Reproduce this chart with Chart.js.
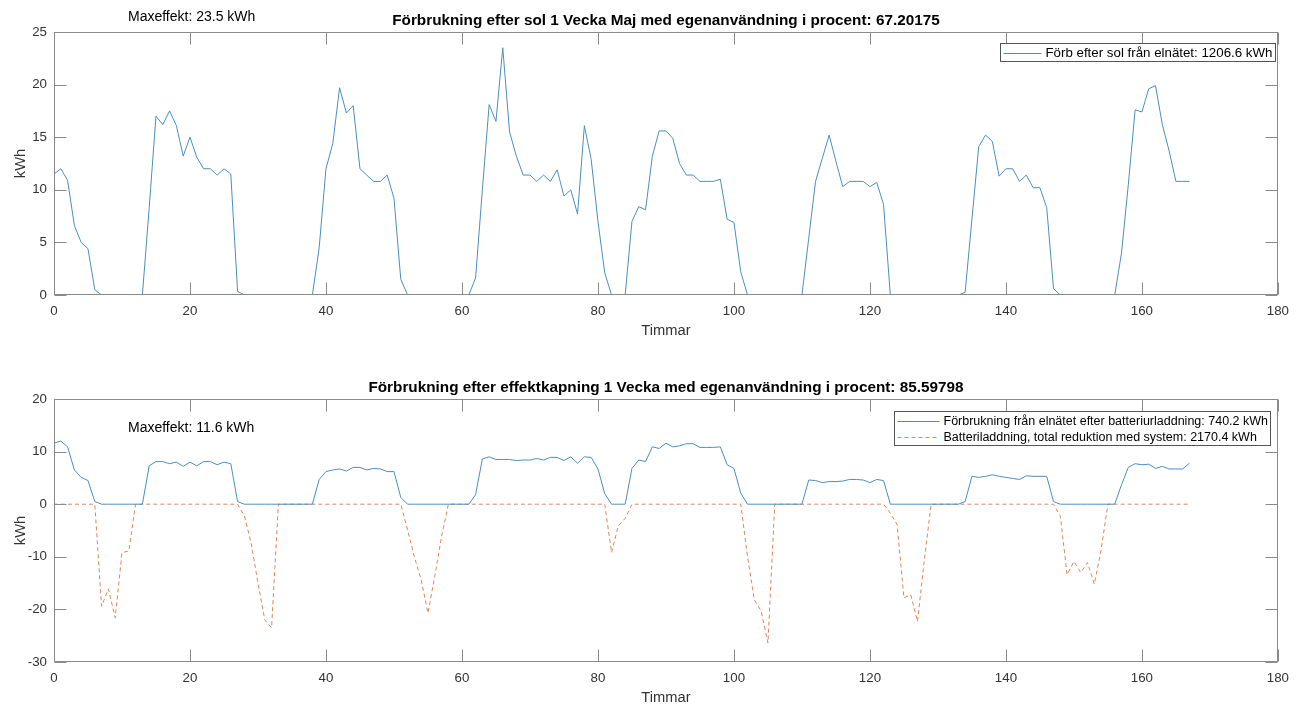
<!DOCTYPE html>
<html>
<head>
<meta charset="utf-8">
<title>Förbrukning 1 vecka</title>
<script src="https://cdn.jsdelivr.net/npm/chart.js@4.4.0/dist/chart.umd.min.js"></script>
<style>
  html, body { margin: 0; padding: 0; background: #fff; overflow: hidden; }
  .panel { position: absolute; left: 0; width: 1297px; height: 367px; }
</style>
</head>
<body>
<div class="panel" style="top:0"><canvas id="solChart" width="1297" height="367"></canvas></div>
<div class="panel" style="top:367px"><canvas id="kapChart" width="1297" height="367"></canvas></div>
<script>
// ===== DATA (one row per day, 24 h each) =====
const hours = Array.from({ length: 168 }, (_, h) => h);

// consumption from grid after solar (kWh)
const gridAfterSolar = [
  11.5, 12.0, 10.9, 6.6, 5.0, 4.4, 0.5, 0, 0, 0, 0, 0, 0, 0, 8.3, 17.0, 16.2, 17.5, 16.1, 13.2, 15.0, 13.1, 12.0, 12.0,
  11.4, 12.0, 11.5, 0.35, 0, 0, 0, 0, 0, 0, 0, 0, 0, 0, 0, 4.5, 12.0, 14.4, 19.7, 17.3, 18.0, 12.0, 11.4, 10.8,
  10.8, 11.4, 9.2, 1.5, 0, 0, 0, 0, 0, 0, 0, 0, 0, 0, 1.6, 10.0, 18.1, 16.5, 23.5, 15.5, 13.2, 11.4, 11.4, 10.8,
  11.4, 10.8, 11.9, 9.4, 10.0, 7.7, 16.1, 12.9, 7.0, 2.1, 0, 0, 0, 7.0, 8.4, 8.1, 13.2, 15.6, 15.6, 14.9, 12.5, 11.4, 11.4, 10.8,
  10.8, 10.8, 11.0, 7.2, 6.9, 2.2, 0, 0, 0, 0, 0, 0, 0, 0, 0, 5.4, 10.8, 13.0, 15.2, 12.7, 10.3, 10.8, 10.8, 10.8,
  10.3, 10.7, 8.6, 0, 0, 0, 0, 0, 0, 0, 0, 0, 0, 0, 0.25, 7.2, 14.1, 15.2, 14.6, 11.3, 12.0, 12.0, 10.8, 11.4,
  10.2, 10.2, 8.3, 0.6, 0, 0, 0, 0, 0, 0, 0, 0, 0, 4.0, 10.5, 17.6, 17.4, 19.6, 19.9, 16.2, 13.7, 10.8, 10.8, 10.8
];

// consumption from grid after battery discharge (kWh)
const gridAfterBattery = [
  11.6, 12.0, 10.9, 6.5, 5.1, 4.5, 0.5, 0, 0, 0, 0, 0, 0, 0, 7.3, 8.1, 8.1, 7.7, 8.0, 7.2, 8.0, 7.3, 8.1, 8.1,
  7.5, 8.0, 7.7, 0.5, 0, 0, 0, 0, 0, 0, 0, 0, 0, 0, 0, 4.7, 6.2, 6.5, 6.7, 6.3, 7.0, 7.0, 6.5, 6.8,
  6.7, 6.2, 6.2, 1.3, 0, 0, 0, 0, 0, 0, 0, 0, 0, 0, 1.8, 8.6, 9.0, 8.5, 8.5, 8.5, 8.3, 8.4, 8.4, 8.7,
  8.4, 8.9, 8.9, 8.3, 9.0, 7.8, 9.0, 8.9, 6.7, 2.0, 0, 0, 0, 6.8, 8.4, 8.1, 10.9, 10.6, 11.6, 10.9, 11.1, 11.5, 11.5, 10.8,
  10.8, 10.8, 10.9, 7.5, 6.8, 2.1, 0, 0, 0, 0, 0, 0, 0, 0, 0, 4.6, 4.5, 4.1, 4.3, 4.3, 4.4, 4.7, 4.7, 4.6,
  4.1, 4.7, 4.5, 0, 0, 0, 0, 0, 0, 0, 0, 0, 0, 0, 0.5, 5.3, 5.1, 5.3, 5.6, 5.3, 5.1, 4.9, 4.7, 5.4,
  5.3, 5.3, 5.3, 0.5, 0, 0, 0, 0, 0, 0, 0, 0, 0, 3.7, 7.0, 7.7, 7.5, 7.6, 6.8, 7.2, 6.7, 6.7, 6.7, 7.8
];

// battery charging (negative = charging, kWh)
const batteryCharge = [
  0, 0, 0, 0, 0, 0, 0, -19.4, -16.1, -21.6, -9.2, -8.9, 0, 0, 0, 0, 0, 0, 0, 0, 0, 0, 0, 0,
  0, 0, 0, 0, -2.2, -7.4, -15.0, -22.0, -23.5, 0, 0, 0, 0, 0, 0, 0, 0, 0, 0, 0, 0, 0, 0, 0,
  0, 0, 0, 0, -4.9, -10.0, -14.4, -20.7, -13.7, -6.1, 0, 0, 0, 0, 0, 0, 0, 0, 0, 0, 0, 0, 0, 0,
  0, 0, 0, 0, 0, 0, 0, 0, 0, 0, -9.2, -4.1, -2.7, 0, 0, 0, 0, 0, 0, 0, 0, 0, 0, 0,
  0, 0, 0, 0, 0, 0, -10.0, -18.2, -20.3, -26.4, 0, 0, 0, 0, 0, 0, 0, 0, 0, 0, 0, 0, 0, 0,
  0, 0, 0, -1.7, -3.9, -17.8, -17.2, -22.3, -10.6, 0, 0, 0, 0, 0, 0, 0, 0, 0, 0, 0, 0, 0, 0, 0,
  0, 0, 0, 0, -2.3, -13.4, -10.9, -13.0, -11.1, -15.2, -8.7, 0, 0, 0, 0, 0, 0, 0, 0, 0, 0, 0, 0, 0
];

const FONT = '"Liberation Sans", Arial, Helvetica, sans-serif';
const TEXT = '#333333';
const FRAME = '#8a8a8a';
const BLUE = '#4a8fc0';
const ORANGE = '#df8457';

// MATLAB-like box: frame, inward ticks on all four sides, legend inside, free text
const matlabAxes = {
  id: 'matlabAxes',
  afterDraw(chart, args, opts) {
    const ctx = chart.ctx;
    const a = chart.chartArea;
    const L = Math.round(a.left) + 0.5, R = Math.round(a.right) - 0.5;
    const T = Math.round(a.top) + 0.5, B = Math.round(a.bottom) - 0.5;
    const tick = 12;
    ctx.save();
    ctx.strokeStyle = FRAME;
    ctx.lineWidth = 1;
    ctx.strokeRect(L, T, R - L, B - T);
    ctx.beginPath();
    const xs = chart.scales.x, ys = chart.scales.y;
    xs.ticks.forEach(t => {
      const px = Math.round(xs.getPixelForValue(t.value)) + 0.5;
      ctx.moveTo(px, B); ctx.lineTo(px, B - tick);
      ctx.moveTo(px, T); ctx.lineTo(px, T + tick);
    });
    ys.ticks.forEach(t => {
      const py = Math.round(ys.getPixelForValue(t.value)) + 0.5;
      ctx.moveTo(L, py); ctx.lineTo(L + tick, py);
      ctx.moveTo(R, py); ctx.lineTo(R - tick, py);
    });
    ctx.stroke();

    // legend box in the top right corner
    const sets = chart.data.datasets;
    ctx.font = opts.legendSize + 'px ' + FONT;
    const textW = Math.max(...sets.map(d => ctx.measureText(d.label).width));
    const lineLen = opts.lineLen, padL = 3, gap = 4, padR = 3, rowH = 16;
    const boxW = Math.round(padL + lineLen + gap + textW + padR);
    const boxH = sets.length * rowH + 2;
    const bx = Math.round(a.right - opts.legendRight - boxW) + 0.5;
    const by = Math.round(a.top + opts.legendTop) + 0.5;
    ctx.fillStyle = '#fff';
    ctx.fillRect(bx, by, boxW, boxH);
    ctx.strokeStyle = '#555';
    ctx.strokeRect(bx, by, boxW, boxH);
    sets.forEach((d, i) => {
      const cy = Math.round(by + 1 + rowH / 2 + i * rowH) + 0.5;
      ctx.beginPath();
      ctx.strokeStyle = d.borderColor;
      ctx.setLineDash(d.borderDash || []);
      ctx.moveTo(bx + padL, cy);
      ctx.lineTo(bx + padL + lineLen, cy);
      ctx.stroke();
      ctx.setLineDash([]);
      ctx.fillStyle = '#000';
      ctx.textBaseline = 'middle';
      ctx.textAlign = 'left';
      ctx.fillText(d.label, bx + padL + lineLen + gap, cy);
    });

    // peak power note
    if (opts.note) {
      ctx.font = '14px ' + FONT;
      ctx.fillStyle = '#000';
      ctx.textBaseline = 'middle';
      ctx.textAlign = 'left';
      ctx.fillText(opts.note.text, opts.note.x, opts.note.y);
    }
    ctx.restore();
  }
};

function makeOptions(cfg) {
  return {
    responsive: false,
    animation: false,
    devicePixelRatio: 1,
    layout: { padding: { left: 0, right: 16, top: 0, bottom: 0 } },
    elements: { point: { radius: 0 }, line: { tension: 0, borderWidth: 1 } },
    plugins: {
      legend: { display: false },
      tooltip: { enabled: false },
      title: {
        display: true,
        fullSize: false,
        text: cfg.title,
        color: '#000',
        font: { family: FONT, size: 15.3, weight: 'bold', lineHeight: '17px' },
        padding: { top: 12, bottom: 3 }
      },
      matlabAxes: {
        note: cfg.note,
        legendTop: cfg.legendTop,
        legendRight: cfg.legendRight,
        legendSize: cfg.legendSize,
        lineLen: cfg.lineLen
      }
    },
    scales: {
      x: {
        type: 'linear',
        min: 0,
        max: 180,
        ticks: { stepSize: 20, color: TEXT, font: { family: FONT, size: 13.3 }, padding: 8, maxRotation: 0 },
        grid: { display: false, drawTicks: false },
        border: { display: false },
        title: { display: true, text: 'Timmar', color: TEXT, font: { family: FONT, size: 14.7 }, padding: { top: 0, bottom: 27 } },
        afterFit: s => { s.height = 72; }
      },
      y: {
        min: cfg.yMin,
        max: cfg.yMax,
        ticks: { stepSize: cfg.yStep, color: TEXT, font: { family: FONT, size: 13.3 }, padding: 7 },
        grid: { display: false, drawTicks: false },
        border: { display: false },
        title: { display: true, text: 'kWh', color: TEXT, font: { family: FONT, size: 14.7 }, padding: { top: 12, bottom: 0 } },
        afterFit: s => { s.width = 54; }
      }
    }
  };
}

// Top panel: after solar
new Chart(document.getElementById('solChart'), {
  type: 'line',
  data: {
    labels: hours,
    datasets: [{
      label: 'Förb efter sol från elnätet: 1206.6 kWh',
      data: gridAfterSolar,
      borderColor: BLUE,
      borderWidth: 1,
      fill: false
    }]
  },
  options: makeOptions({
    title: 'Förbrukning efter sol 1 Vecka Maj med egenanvändning i procent: 67.20175',
    note: { text: 'Maxeffekt: 23.5 kWh', x: 128, y: 17.5 },
    legendTop: 11, legendRight: 3, legendSize: 13.3, lineLen: 38,
    yMin: 0, yMax: 25, yStep: 5
  }),
  plugins: [matlabAxes]
});

// Bottom panel: after peak shaving with battery
new Chart(document.getElementById('kapChart'), {
  type: 'line',
  data: {
    labels: hours,
    datasets: [{
      label: 'Förbrukning från elnätet efter batteriurladdning: 740.2 kWh',
      data: gridAfterBattery,
      borderColor: BLUE,
      borderWidth: 1,
      fill: false
    }, {
      label: 'Batteriladdning, total reduktion med system: 2170.4 kWh',
      data: batteryCharge,
      borderColor: ORANGE,
      borderWidth: 1,
      borderDash: [4, 3],
      fill: false
    }]
  },
  options: makeOptions({
    title: 'Förbrukning efter effektkapning 1 Vecka med egenanvändning i procent: 85.59798',
    note: { text: 'Maxeffekt: 11.6 kWh', x: 128, y: 61 },
    legendTop: 12, legendRight: 8, legendSize: 12.5, lineLen: 42,
    yMin: -30, yMax: 20, yStep: 10
  }),
  plugins: [matlabAxes]
});
</script>
</body>
</html>
